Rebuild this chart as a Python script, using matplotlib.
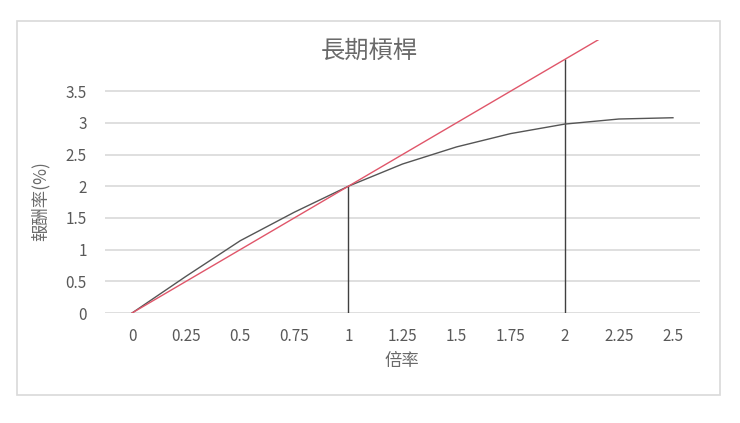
import matplotlib.pyplot as plt
from matplotlib.patches import Rectangle

plt.rcParams['font.family'] = ['Noto Sans CJK TC', 'DejaVu Sans']

# data
leverage = [0, 0.25, 0.5, 0.75, 1, 1.25, 1.5, 1.75, 2, 2.25, 2.5]
tick_labels = ['0', '0.25', '0.5', '0.75', '1', '1.25', '1.5', '1.75', '2', '2.25', '2.5']
returns = [0, 0.58, 1.14, 1.59, 2.0, 2.35, 2.62, 2.83, 2.98, 3.06, 3.08]
linear_x = [0, 2.5]
linear_y = [0, 5.0]
marker_x = [1, 2]
marker_top = [2.0, 4.0]
y_ticks = [0, 0.5, 1, 1.5, 2, 2.5, 3, 3.5]
y_tick_labels = ['0', '0.5', '1', '1.5', '2', '2.5', '3', '3.5']

text_color = '#595959'
grid_color = '#d9d9d9'

fig = plt.figure(figsize=(7.4, 4.23), dpi=100)
ax = fig.add_axes([105 / 740, 1 - 313 / 423, 595 / 740, (313 - 40.4) / 423])

# chart border
fig.patches.append(Rectangle((17 / 740, 1 - 395 / 423), 703 / 740, 374 / 423,
                             transform=fig.transFigure, fill=False,
                             edgecolor=grid_color, linewidth=1.2))

for yv in y_ticks:
    ax.axhline(yv, color=grid_color, linewidth=1.2, zorder=0)

ax.plot(leverage, returns, color='#555555', linewidth=1.0, zorder=3)
ax.plot(linear_x, linear_y, color='#e0566a', linewidth=1.0, zorder=4)
ax.vlines(marker_x, 0, marker_top, color='#404040', linewidth=1.0, zorder=2)

ax.set_xlim(-0.125, 2.625)
ax.set_ylim(0, 4.3)
ax.set_xticks(leverage)
ax.set_xticklabels(tick_labels)
ax.set_yticks(y_ticks)
ax.set_yticklabels(y_tick_labels)
ax.tick_params(length=0, labelsize=11, colors=text_color, pad=11)
ax.tick_params(axis='y', pad=13)
for s in ax.spines.values():
    s.set_visible(False)

fig.text(369 / 740, 1 - 51 / 423, '長期槓桿', ha='center', va='center',
         fontsize=17.5, fontweight='light', color='#6a6a6a')
fig.text(402 / 740, 1 - 361 / 423, '倍率', ha='center', va='center',
         fontsize=12.5, fontweight='light', color='#6a6a6a')
fig.text(40 / 740, 1 - 201 / 423, '報酬率(%)', ha='center', va='center',
         rotation=90, fontsize=12.5, fontweight='light', color='#6a6a6a')

fig.savefig('out.png', dpi=100)
